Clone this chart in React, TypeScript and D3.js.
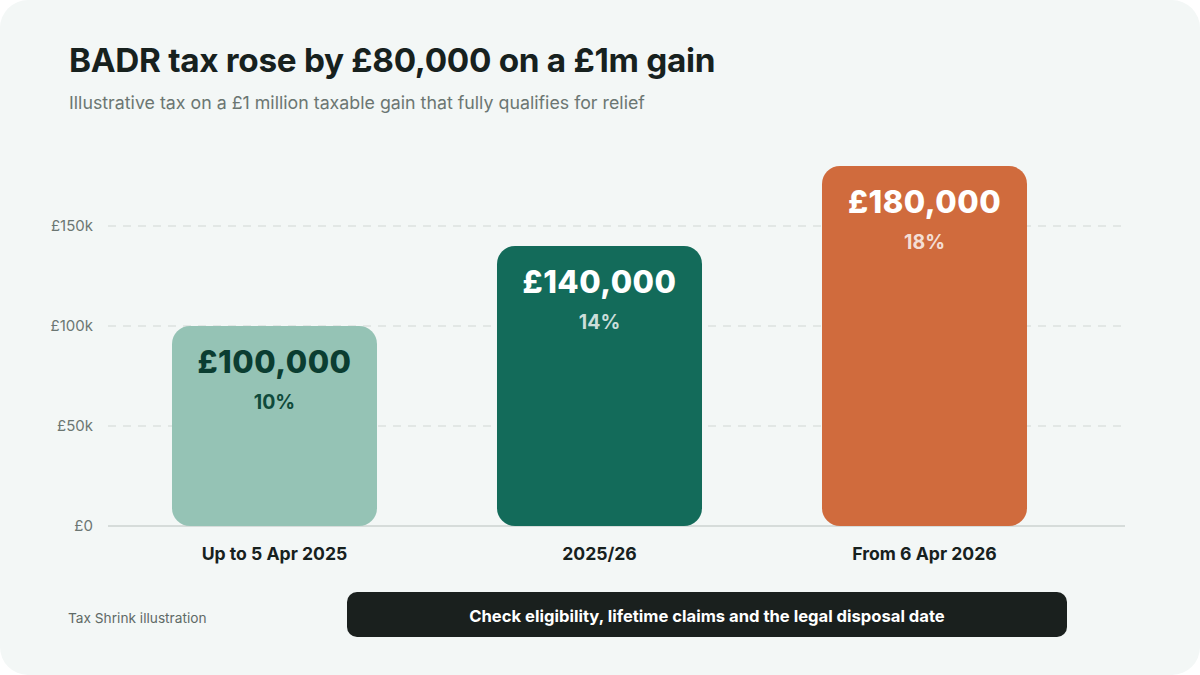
import React from "react";
import * as d3 from "d3";

const categories = ["Up to 5 Apr 2025", "2025/26", "From 6 Apr 2026"];
const taxValues = [100000, 140000, 180000];
const rateLabels = ["10%", "14%", "18%"];
const valueLabels = ["£100,000", "£140,000", "£180,000"];
const yTicks = [0, 50000, 100000, 150000];
const yTickLabels = ["£0", "£50k", "£100k", "£150k"];
const barColors = ["#95c3b5", "#136b5a", "#d06b3d"];
const valueTextColors = ["#0b3d31", "#ffffff", "#ffffff"];
const rateTextColors = ["#0f4a3b", "rgba(255,255,255,0.78)", "rgba(255,255,255,0.8)"];

const W = 1200;
const H = 675;
const FONT = "Inter, 'Noto Sans', sans-serif";

export default function App() {
  const x = d3
    .scaleBand<string>()
    .domain(categories)
    .range([112, 1087])
    .paddingInner(0.3692)
    .paddingOuter(0.1846);
  const y = d3.scaleLinear().domain([0, 150000]).range([526, 226]);
  const bw = x.bandwidth();

  return (
    <div style={{ position: "fixed", left: 0, top: 0, width: W, height: H, background: "#ffffff" }}>
      <svg width={W} height={H} style={{ display: "block" }} fontFamily={FONT}>
        <rect x={0} y={0} width={W} height={H} rx={28} ry={28} fill="#f3f7f6" />
        <text x={69} y={72} fontSize={33.3} fontWeight={700} fill="#17211e" letterSpacing={-0.3}>
          BADR tax rose by £80,000 on a £1m gain
        </text>
        <text x={69} y={109} fontSize={17.8} fill="#6b7672">
          Illustrative tax on a £1 million taxable gain that fully qualifies for relief
        </text>

        {yTicks.map((t, i) => (
          <g key={t}>
            {t !== 0 && (
              <line
                x1={108}
                x2={1125}
                y1={y(t)}
                y2={y(t)}
                stroke="#dde2e0"
                strokeWidth={1.5}
                strokeDasharray="8 7"
              />
            )}
            <text
              x={93}
              y={y(t)}
              dy="0.35em"
              textAnchor="end"
              fontSize={15}
              fill="#6b7672"
            >
              {yTickLabels[i]}
            </text>
          </g>
        ))}
        <line x1={108} x2={1125} y1={y(0)} y2={y(0)} stroke="#d6dcda" strokeWidth={2} />

        {categories.map((c, i) => {
          const x0 = x(c) as number;
          const top = y(taxValues[i]);
          const cx = x0 + bw / 2;
          return (
            <g key={c}>
              <rect
                x={x0}
                y={top}
                width={bw}
                height={y(0) - top}
                rx={18}
                ry={18}
                fill={barColors[i]}
              />
              <text
                x={cx}
                y={top + 47}
                textAnchor="middle"
                fontSize={31}
                fontWeight={800}
                fill={valueTextColors[i]}
                letterSpacing={0.5}
              >
                {valueLabels[i]}
              </text>
              <text
                x={cx}
                y={top + 83}
                textAnchor="middle"
                fontSize={19.5}
                fontWeight={700}
                fill={rateTextColors[i]}
              >
                {rateLabels[i]}
              </text>
              <text
                x={cx}
                y={560}
                textAnchor="middle"
                fontSize={17.6}
                fontWeight={700}
                fill="#17211e"
              >
                {c}
              </text>
            </g>
          );
        })}

        <text x={68} y={623} fontSize={13.7} fill="#5f6a66">
          Tax Shrink illustration
        </text>
        <rect x={347} y={592} width={720} height={45} rx={10} ry={10} fill="#1a201e" />
        <text x={707} y={616} dy="0.35em" textAnchor="middle" fontSize={16.6} fontWeight={700} fill="#ffffff">
          Check eligibility, lifetime claims and the legal disposal date
        </text>
      </svg>
    </div>
  );
}
